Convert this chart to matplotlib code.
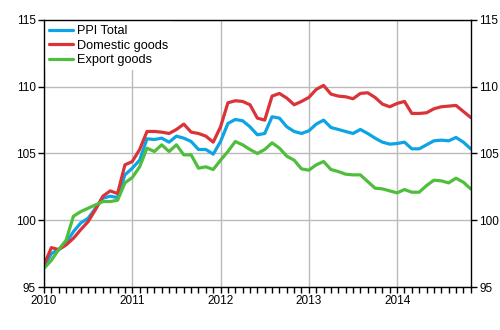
import numpy as np
import pandas as pd
import matplotlib
matplotlib.use('Agg')
import matplotlib.pyplot as plt
from matplotlib.ticker import MultipleLocator

plt.rcParams['font.family'] = ['Liberation Sans', 'DejaVu Sans']

# Monthly index 2010-01 .. 2014-11
months = pd.date_range('2010-01-01', '2014-11-01', freq='MS')

ppi_total = [96.5, 97.5, 97.8, 98.3, 99.15, 99.8, 100.15, 100.9, 101.65, 101.8, 101.7, 103.4,
             103.9, 104.5, 106.1, 106.05, 106.15, 105.85, 106.3, 106.15, 105.9, 105.3, 105.3, 104.95,
             105.9, 107.25, 107.55, 107.45, 107.0, 106.4, 106.5, 107.75, 107.65, 107.0, 106.65, 106.5,
             106.7, 107.2, 107.5, 106.95, 106.8, 106.65, 106.5, 106.8, 106.5, 106.15, 105.85, 105.7,
             105.75, 105.85, 105.35, 105.35, 105.65, 105.95, 106.0, 105.95, 106.2, 105.85, 105.35]
domestic = [96.65, 97.95, 97.8, 98.15, 98.65, 99.3, 99.9, 100.8, 101.8, 102.2, 102.0, 104.15,
            104.4, 105.3, 106.65, 106.65, 106.6, 106.5, 106.8, 107.2, 106.6, 106.5, 106.3, 105.85,
            107.0, 108.8, 108.95, 108.9, 108.65, 107.65, 107.5, 109.3, 109.5, 109.15, 108.65, 108.9,
            109.2, 109.8, 110.1, 109.45, 109.3, 109.25, 109.1, 109.5, 109.55, 109.2, 108.7, 108.5,
            108.75, 108.9, 108.0, 108.0, 108.05, 108.35, 108.5, 108.55, 108.6, 108.15, 107.7]
export = [96.4, 97.0, 97.8, 98.5, 100.3, 100.65, 100.9, 101.15, 101.4, 101.4, 101.5, 102.8,
          103.2, 104.0, 105.4, 105.15, 105.65, 105.15, 105.65, 104.9, 104.9, 103.9, 104.0, 103.8,
          104.5, 105.15, 105.9, 105.65, 105.3, 105.0, 105.3, 105.8, 105.4, 104.8, 104.5, 103.85,
          103.75, 104.15, 104.4, 103.8, 103.65, 103.45, 103.4, 103.4, 102.9, 102.4, 102.35, 102.2,
          102.05, 102.3, 102.1, 102.1, 102.6, 103.0, 102.95, 102.8, 103.15, 102.85, 102.35]

series_names = ['PPI Total', 'Domestic goods', 'Export goods']
colors = ['#0ca4e4', '#da3338', '#4fbe3c']
year_labels = ['2010', '2011', '2012', '2013', '2014']

x = np.arange(len(months))

fig = plt.figure(figsize=(5, 3.3), dpi=100)
ax = fig.add_axes([0.088, 0.1303, 0.8534, 0.8091])

for vals, name, c in zip([ppi_total, domestic, export], series_names, colors):
    ax.plot(x, vals, color=c, lw=2.3, label=name, solid_capstyle='round', zorder=3)

ax.set_xlim(0, len(months) - 1)
ax.set_ylim(95, 115)
ax.set_yticks([95, 100, 105, 110, 115])
ax.set_xticks(np.arange(0, len(months), 12))
ax.set_xticklabels(year_labels)
ax.xaxis.set_minor_locator(MultipleLocator(1))

ax.grid(True, which='major', color='#bbbbbb', lw=1)
ax.set_axisbelow(True)

ax.tick_params(axis='both', which='both', direction='out', labelsize=8.5, colors='black',
               length=4, width=1, pad=2)
ax.tick_params(axis='y', right=True, labelright=True, left=True, labelleft=True)
for s in ax.spines.values():
    s.set_color('black')
    s.set_linewidth(1)
    s.set_zorder(6)

leg = ax.legend(loc='upper left', fontsize=9.2, frameon=True, fancybox=False,
                edgecolor='none', facecolor='white', framealpha=1,
                borderaxespad=0.1, borderpad=0.3, handlelength=1.85,
                handletextpad=0.3, labelspacing=0.2)
leg.set_zorder(5)

fig.savefig('out.png', dpi=100)
